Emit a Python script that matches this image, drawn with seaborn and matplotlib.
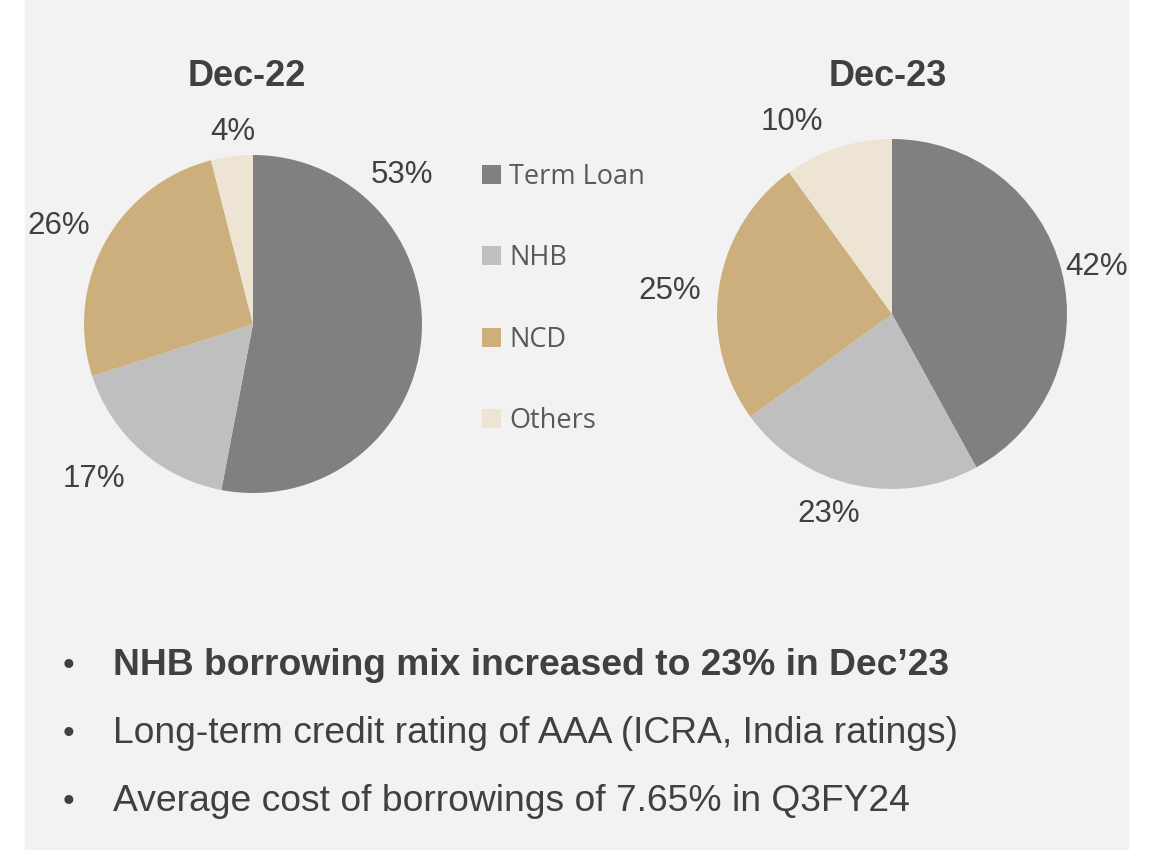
#modulos necessarios
import matplotlib
matplotlib.use("Agg")
import matplotlib.pyplot as plt
import seaborn as sb
from matplotlib.patches import Rectangle

#dados do grafico
categorias = ["Term Loan", "NHB", "NCD", "Others"]
dez22 = [53, 17, 26, 4]
dez23 = [42, 23, 25, 10]
titulos = ["Dec-22", "Dec-23"]
cores = ["#808080", "#BFBFBF", "#CCAF7D", "#EEE4D4"]
topicos = [
    "NHB borrowing mix increased to 23% in Dec\u201923",
    "Long-term credit rating of AAA (ICRA, India ratings)",
    "Average cost of borrowings of 7.65% in Q3FY24",
]

#posicao dos rotulos (em unidades do raio)
pos22 = [(0.88, 0.88), (-0.94, -0.92), (-1.15, 0.58), (-0.12, 1.135)]
pos23 = [(1.17, 0.27), (-0.36, -1.14), (-1.27, 0.13), (-0.57, 1.10)]

sb.set_theme(style="white")
plt.rcParams["font.family"] = ["Liberation Sans", "DejaVu Sans"]
cor_texto = "#404040"

W, H = 1152, 850
fig = plt.figure(figsize=(W / 100, H / 100), dpi=100)
fig.patch.set_facecolor("white")
fig.patches.append(Rectangle((25 / W, 0), (1128 - 25) / W, 1,
                             transform=fig.transFigure, color="#F2F2F2", zorder=-5))

#area de cada pizza em pixels: (centro x, centro y, raio)
caixas = [(253, 324, 169), (892, 314, 175)]
dados = [dez22, dez23]
posicoes = [pos22, pos23]
fatias = None
for (cx, cy, r), valores, pos in zip(caixas, dados, posicoes):
    ax = fig.add_axes([(cx - r) / W, (H - cy - r) / H, 2 * r / W, 2 * r / H])
    ax.set_facecolor("none")
    w, _ = ax.pie(valores, colors=cores, startangle=90, counterclock=False,
                  wedgeprops=dict(linewidth=0))
    if fatias is None:
        fatias = w
    for v, (x, y) in zip(valores, pos):
        ax.text(x, y, f"{v}%", ha="center", va="center", fontsize=22.5, color=cor_texto)
    ax.set_xlim(-1, 1)
    ax.set_ylim(-1, 1)
    ax.axis("off")

#titulos
fig.text(247 / W, 1 - 77 / H, titulos[0], ha="center", va="center",
         fontsize=26, fontweight="bold", color=cor_texto)
fig.text(888 / W, 1 - 77 / H, titulos[1], ha="center", va="center",
         fontsize=26, fontweight="bold", color=cor_texto)

#legenda no meio
fig.legend(fatias, categorias, loc="upper left", bbox_to_anchor=(482 / W, 1 - 163 / H),
           frameon=False, borderpad=0, borderaxespad=0, labelspacing=1.97,
           handlelength=0.7, handleheight=0.7, handletextpad=0.3,
           prop={"family": "Open Sans", "size": 19.5}, labelcolor="#595959")

#topicos embaixo
linhas_y = [675, 743, 811]
for i, (t, y) in enumerate(zip(topicos, linhas_y)):
    fig.text(68 / W, 1 - y / H, "\u2022", ha="center", va="baseline",
             fontsize=24, color=cor_texto)
    fig.text(113 / W, 1 - y / H, t, ha="left", va="baseline", fontsize=26.8,
             fontweight="bold" if i == 0 else "normal", color=cor_texto)

fig.savefig("out.png", dpi=100)
